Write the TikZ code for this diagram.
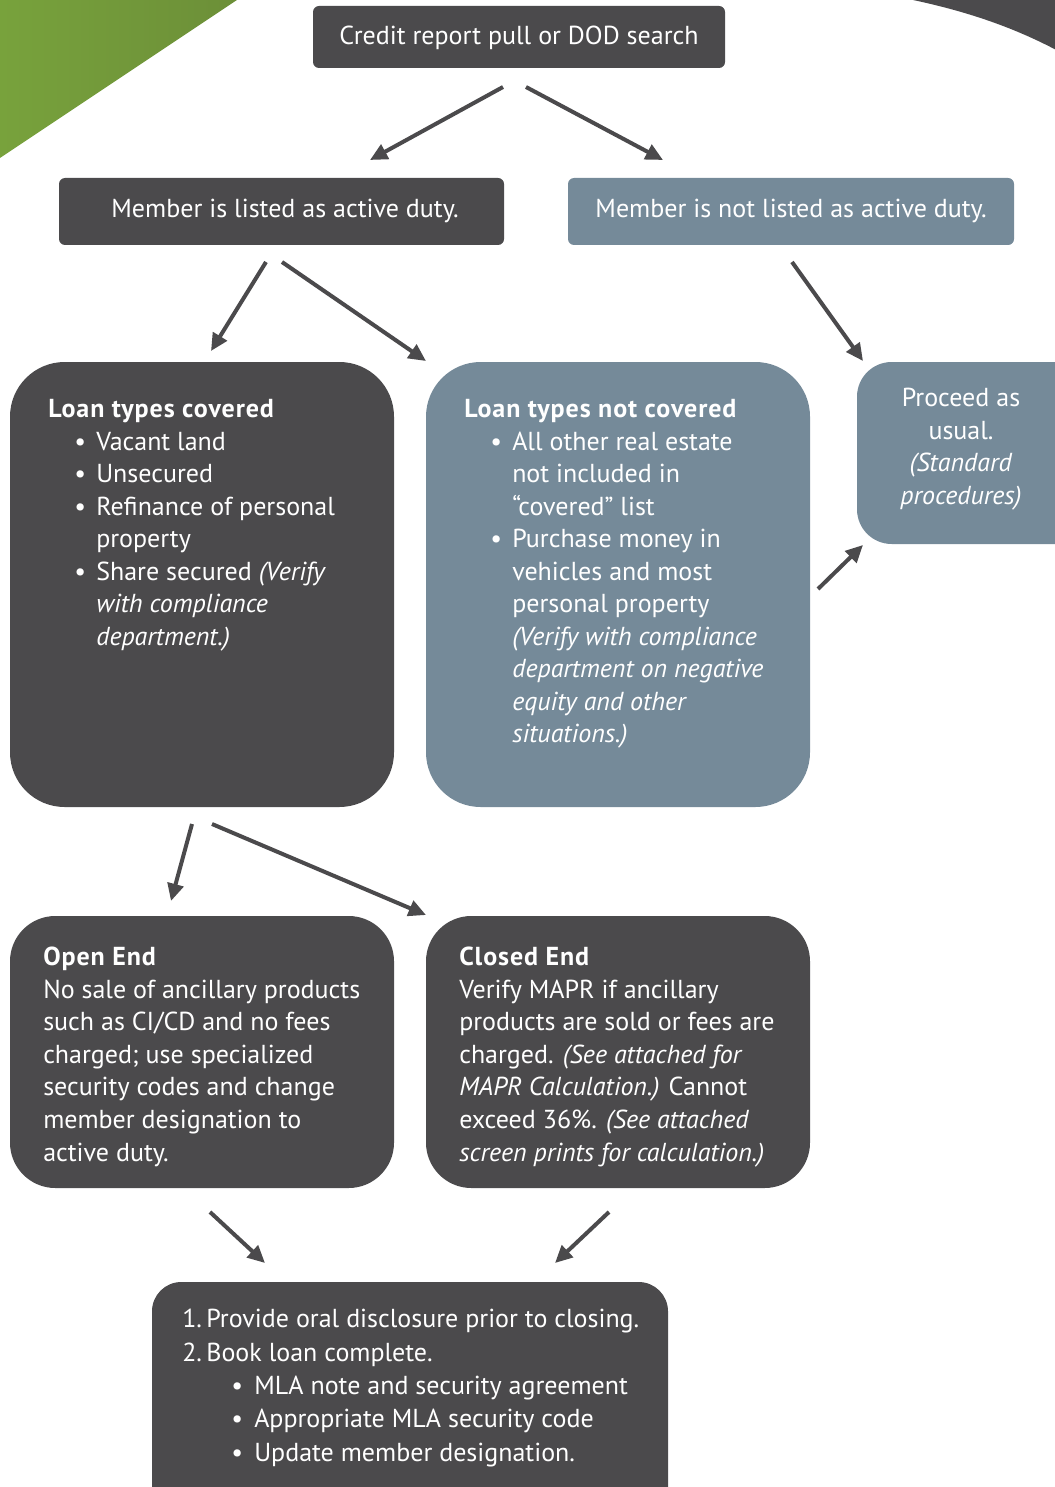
\documentclass[tikz,border=0pt]{standalone}
\usepackage{fontspec}
\setmainfont{PT Sans}
\usetikzlibrary{arrows.meta}
\definecolor{dk}{HTML}{4B4A4C}
\definecolor{bl}{HTML}{758A99}
\definecolor{gA}{HTML}{78A23C}
\definecolor{gB}{HTML}{6C8F38}
\newcommand\bitem[1]{\makebox[36pt][l]{\hspace{19.5pt}\textbullet}#1}
\newcommand\cont[1]{\makebox[36pt]{}#1}
\newcommand\fbitem[1]{\makebox[54pt][l]{\hspace{36.75pt}\textbullet}#1}
\newcommand\hd[1]{{\bfseries\addfontfeatures{LetterSpace=3.5}#1}}
\begin{document}
\begin{tikzpicture}[x=0.75pt,y=-0.75pt,
  dkbox/.style={fill=dk,draw=none,inner sep=0pt},
  blbox/.style={fill=bl,draw=none,inner sep=0pt},
  txt/.style={text=white,inner sep=0pt,align=left,font=\fontsize{19.5pt}{24.4pt}\selectfont},
  ctxt/.style={text=white,inner sep=0pt,align=center,font=\fontsize{19.5pt}{24.4pt}\selectfont},
  arr/.style={draw=dk,line width=3pt,-{Triangle[length=13pt,width=12pt]}}]
\path[use as bounding box,clip] (0,0) rectangle (1055,1487);
% decorations
\shade[left color=gA,right color=gB] (0,0) -- (237,0) -- (0,158) -- cycle;
\fill[dk] (913,0) .. controls (960,10) and (1010,25) .. (1060,52) -- (1060,0) -- cycle;
% boxes
\node[dkbox,rounded corners=4.5pt,minimum width=309pt,minimum height=46.5pt] (top) at (519,37) {};
\node[dkbox,rounded corners=4.5pt,minimum width=333.75pt,minimum height=50.25pt] (act) at (281.5,211.5) {};
\node[blbox,rounded corners=4.5pt,minimum width=334.5pt,minimum height=50.25pt] (nact) at (791,211.5) {};
\node[dkbox,rounded corners=41pt,minimum width=288pt,minimum height=333.75pt] (cov) at (202,584.5) {};
\node[blbox,rounded corners=41pt,minimum width=288pt,minimum height=333.75pt] (ncov) at (618,584.5) {};
\node[blbox,rounded corners=26pt,minimum width=178.5pt,minimum height=136.5pt] (proc) at (976,453) {};
\node[dkbox,rounded corners=34pt,minimum width=288pt,minimum height=204pt] (open) at (202,1052) {};
\node[dkbox,rounded corners=34pt,minimum width=288pt,minimum height=204pt] (closed) at (618,1052) {};
\node[dkbox,rounded corners=22pt,minimum width=387pt,minimum height=186pt] (final) at (410,1406) {};
% texts
\node[ctxt] (ttop) at (519,38) {Credit report pull or DOD search};
\node[ctxt] (tact) at (285,211) {Member is listed as active duty.};
\node[ctxt] (tnact) at (791,211) {Member is not listed as active duty.};
\node[txt,anchor=north west] (tcov) at (48,399) {\hd{Loan types covered}\\
\bitem{Vacant land}\\
\bitem{Unsecured}\\
\bitem{Refinance of personal}\\
\cont{property}\\
\bitem{Share secured \textit{(Verify}}\\
\cont{\textit{with compliance}}\\
\cont{\textit{department.)}}};
\node[txt,anchor=north west] (tncov) at (464,399) {\hd{Loan types not covered}\\
\bitem{All other real estate}\\
\cont{not included in}\\
\cont{“covered” list}\\
\bitem{Purchase money in}\\
\cont{vehicles and most}\\
\cont{personal property}\\
\cont{\textit{(Verify with compliance}}\\
\cont{\textit{department on negative}}\\
\cont{\textit{equity and other}}\\
\cont{\textit{situations.)}}};
\node[ctxt,anchor=north] (tproc) at (961,388) {Proceed as\\usual.\\\textit{(Standard}\\\textit{procedures)}};
\node[txt,anchor=north west] (topen) at (43,947) {\hd{Open End}\\
No sale of ancillary products\\
such as CI/CD and no fees\\
charged; use specialized\\
security codes and change\\
member designation to\\
active duty.};
\node[txt,anchor=north west] (tclosed) at (459,947) {\hd{Closed End}\\
Verify MAPR if ancillary\\
products are sold or fees are\\
charged. \textit{(See attached for}\\
\textit{MAPR Calculation.)} Cannot\\
exceed 36\%. \textit{(See attached}\\
\textit{screen prints for calculation.)}};
\node[txt,anchor=north west,font=\fontsize{19.5pt}{25pt}\selectfont] (tfinal) at (182,1309) {1.\,Provide oral disclosure prior to closing.\\
2.\,Book loan complete.\\
\fbitem{MLA note and security agreement}\\
\fbitem{Appropriate MLA security code}\\
\fbitem{Update member designation.}};
% arrow end points
\coordinate (a1s) at (503,87); \coordinate (a1e) at (370,160);
\coordinate (a2s) at (526,87); \coordinate (a2e) at (663,160);
\coordinate (a3s) at (266,262); \coordinate (a3e) at (211,351);
\coordinate (a4s) at (282,262); \coordinate (a4e) at (426,361);
\coordinate (a5s) at (792,262); \coordinate (a5e) at (863,361);
\coordinate (a6s) at (818,589); \coordinate (a6e) at (863,545);
\coordinate (a7s) at (192,824); \coordinate (a7e) at (171,901);
\coordinate (a8s) at (212,824); \coordinate (a8e) at (426,915);
\coordinate (a9s) at (210,1212); \coordinate (a9e) at (265,1263);
\coordinate (a10s) at (609,1212); \coordinate (a10e) at (555,1263);
\foreach \i in {1,...,10} {\draw[arr] (a\i s) -- (a\i e);}
\end{tikzpicture}
\end{document}
